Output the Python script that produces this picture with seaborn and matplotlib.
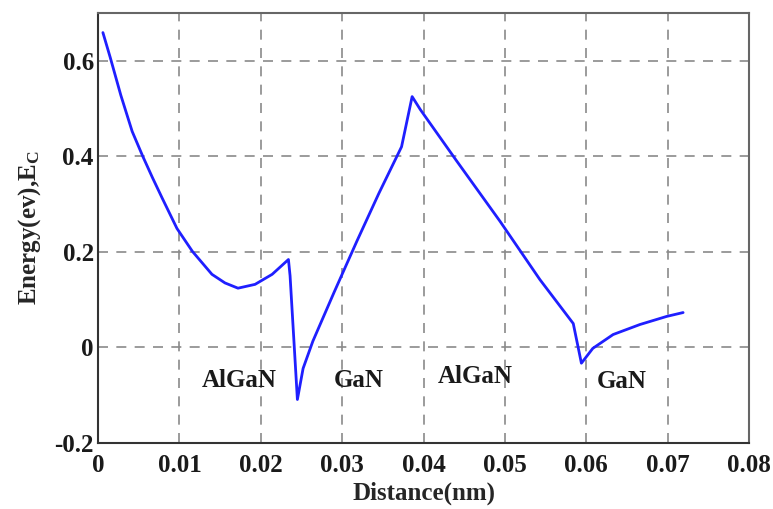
import numpy as np
import pandas as pd
import seaborn as sns
import matplotlib.pyplot as plt

# conduction band profile
distance = [0.0006, 0.0015, 0.0028, 0.0042, 0.0055, 0.0067, 0.0079, 0.0097, 0.0116,
            0.0140, 0.0156, 0.0172, 0.0193, 0.0214, 0.0234, 0.0236,
            0.0245, 0.0252, 0.0264, 0.0290, 0.0318, 0.0345, 0.0373,
            0.0386, 0.0396, 0.0440, 0.0494, 0.0543, 0.0584,
            0.0594, 0.0608, 0.0633, 0.0666, 0.0699, 0.0719]
energy = [0.659, 0.607, 0.528, 0.452, 0.400, 0.355, 0.312, 0.249, 0.201,
          0.153, 0.135, 0.124, 0.132, 0.153, 0.184, 0.150,
          -0.109, -0.044, 0.013, 0.115, 0.222, 0.322, 0.420,
          0.525, 0.498, 0.392, 0.264, 0.142, 0.050,
          -0.033, -0.002, 0.027, 0.048, 0.065, 0.073]

layer_names = ['AlGaN', 'GaN', 'AlGaN', 'GaN']
layer_x = [0.0173, 0.0321, 0.0463, 0.0644]
layer_y = [-0.070, -0.070, -0.060, -0.072]

df = pd.DataFrame({'Distance': distance, 'Energy': energy})

sns.set_style('white')
plt.rcParams['font.family'] = ['Liberation Serif', 'DejaVu Serif']
plt.rcParams['font.weight'] = 'bold'
plt.rcParams['mathtext.fontset'] = 'custom'
plt.rcParams['mathtext.rm'] = 'Liberation Serif:bold'
plt.rcParams['mathtext.it'] = 'Liberation Serif:bold'

fig = plt.figure(figsize=(7.73, 5.09), dpi=100)
ax = fig.add_axes([0.1268, 0.1297, 0.8422, 0.8448])

sns.lineplot(data=df, x='Distance', y='Energy', ax=ax, color='#1f1fff', linewidth=2, sort=False)

ax.set_xlim(0, 0.08)
ax.set_ylim(-0.2, 0.7)
ax.set_xticks(np.arange(0, 0.081, 0.01))
ax.set_xticklabels(['0', '0.01', '0.02', '0.03', '0.04', '0.05', '0.06', '0.07', '0.08'])
ax.set_yticks([-0.2, 0, 0.2, 0.4, 0.6])
ax.set_yticklabels(['-0.2', '0', '0.2', '0.4', '0.6'])
ax.tick_params(direction='in', length=4, labelsize=18, colors='#1a1a1a')
ax.tick_params(axis='x', pad=8)
ax.tick_params(axis='y', pad=3)
for lab in ax.get_xticklabels() + ax.get_yticklabels():
    lab.set_fontweight('bold')

ax.grid(True, linestyle=(0, (6, 5)), color='#8a8a8a', linewidth=1.2)
for side in ['left', 'bottom']:
    ax.spines[side].set_color('#333333')
    ax.spines[side].set_linewidth(1.5)
for side in ['top', 'right']:
    ax.spines[side].set_color('#666666')
    ax.spines[side].set_linewidth(1.5)

for name, x, y in zip(layer_names, layer_x, layer_y):
    ax.text(x, y, name, ha='center', va='center', fontsize=18, fontweight='bold', color='#1a1a1a')

ax.set_xlabel('Distance(nm)', fontsize=18, fontweight='bold', labelpad=3)
ax.set_ylabel('Energy(ev),E$_C$', fontsize=18, fontweight='bold', labelpad=8)

fig.savefig('out.png', dpi=100)
